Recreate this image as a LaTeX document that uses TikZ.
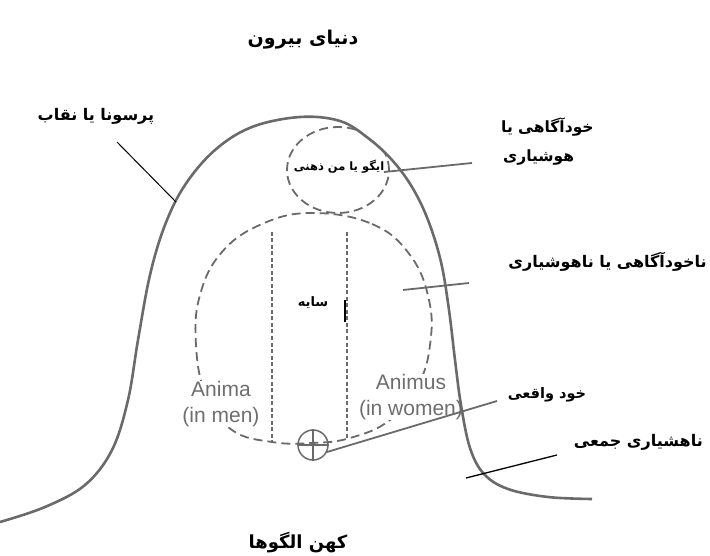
\documentclass[tikz,border=0pt]{standalone}
\usepackage{fontspec}
\TeXXeTstate=1
\newfontfamily\fa[Script=Arabic]{DejaVu Sans}
\newfontfamily\lat{Liberation Sans}
\definecolor{linegray}{HTML}{6A6A6A}
\definecolor{txtgray}{HTML}{6E6E6E}
\begin{document}
\begin{tikzpicture}[x=1pt,y=-1pt,
  lbl/.style={font=\fa\bfseries\fontsize{16}{18}\selectfont, inner sep=1pt, text=black},
  latlab/.style={font=\lat\fontsize{21}{26}\selectfont, text=txtgray, align=center, fill=white, inner sep=0pt},
  bell/.style={draw=linegray, line width=2.6pt},
  bigdash/.style={draw=linegray, line width=1.8pt, dash pattern=on 9pt off 5pt},
  finedash/.style={draw=linegray, line width=1.5pt, dash pattern=on 4pt off 2.5pt},
  conn/.style={draw=linegray, line width=1.8pt},
  thinconn/.style={draw=black, line width=1pt}]
\useasboundingbox (0,0) rectangle (710,556);

% bell outline path (saved)
\path[save path=\bellpath] plot[smooth, tension=0.6] coordinates {
  (0,522) (45,507) (85,485) (112,450) (128,400) (138,340) (150,275) (165,225)
  (185,185) (215,150) (252,127) (300,117) (340,121) (368,138) (392,160)
  (412,187) (428,220) (441,262) (449,310) (455,360) (461,405) (470,448)
  (484,474) (508,489) (548,497) (592,499)};

% ego ellipse, clipped to inside the bell
\begin{scope}
  \clip[use path=\bellpath];
  \draw[bigdash] (338,170) ellipse [x radius=51pt, y radius=43pt];
\end{scope}

% unconscious (big dashed shape)
\draw[bigdash] plot[smooth cycle, tension=0.7] coordinates {
  (312,213) (372,224) (410,255) (429,300) (430,345) (418,385) (390,420)
  (350,438) (312,443) (272,442) (232,430) (206,395) (196,345) (200,295)
  (222,252) (262,224)};

% shadow boundaries
\draw[finedash] (272,232) -- (272,442);
\draw[finedash] (347,232) -- (347,438);
\draw[black, line width=2.4pt] (345,300) -- (345,322);

% anima / animus
\node[latlab] (anima) at (221,404) {Anima\\(in men)};
\node[latlab] (animus) at (411,397) {Animus\\(in women)};

% bell outline
\draw[bell, use path=\bellpath];

% self symbol
\node[draw=linegray, circle, line width=1.5pt, minimum size=30pt, inner sep=0pt] (self) at (313,445) {};
\draw[linegray, line width=1.3pt] (self.north) -- (self.south);
\draw[linegray, line width=1.3pt] (self.west) -- (self.east);

% labels
\node[lbl, font=\fa\bfseries\fontsize{19}{21}\selectfont] (title) at (303,40) {\beginR دنیای بیرون\endR};
\node[lbl] (persona) at (96,116) {\beginR پرسونا یا نقاب\endR};
\node[lbl, anchor=west, font=\fa\bfseries\fontsize{15.5}{18}\selectfont] (consc1) at (500,127) {\beginR خودآگاهی یا\endR};
\node[lbl, anchor=west, font=\fa\bfseries\fontsize{15.5}{18}\selectfont] (consc2) at (502,158) {\beginR هوشیاری\endR};
\node[lbl, font=\fa\bfseries\fontsize{11.5}{14}\selectfont] (ego) at (339,167) {\beginR ایگو یا من ذهنی\endR};
\node[lbl, anchor=east, font=\fa\bfseries\fontsize{16}{18}\selectfont] (uncons) at (708,262) {\beginR ناخودآگاهی یا ناهوشیاری\endR};
\node[lbl, font=\fa\bfseries\fontsize{13}{15}\selectfont] (shadow) at (313,303) {\beginR سایه\endR};
\node[lbl, font=\fa\bfseries\fontsize{14.5}{17}\selectfont] (selflab) at (547,395) {\beginR خود واقعی\endR};
\node[lbl, anchor=east] (collect) at (704,442) {\beginR ناهشیاری جمعی\endR};
\node[lbl, font=\fa\bfseries\fontsize{18}{20}\selectfont] (arche) at (298,543) {\beginR کهن الگوها\endR};

% connector end points
\coordinate (pA) at (117,142); \coordinate (pB) at (176,202);
\coordinate (eA) at (384,172); \coordinate (eB) at (472,163);
\coordinate (uA) at (403,290); \coordinate (uB) at (469,283);
\coordinate (sA) at (327,452); \coordinate (sB) at (497,401);
\coordinate (cA) at (466,478); \coordinate (cB) at (557,455);

\draw[thinconn] (pA) -- (pB);
\draw[conn] (eA) -- (eB);
\draw[conn] (uA) -- (uB);
\draw[conn] (sA) -- (sB);
\draw[thinconn, line width=1.3pt] (cA) -- (cB);
\end{tikzpicture}
\end{document}
